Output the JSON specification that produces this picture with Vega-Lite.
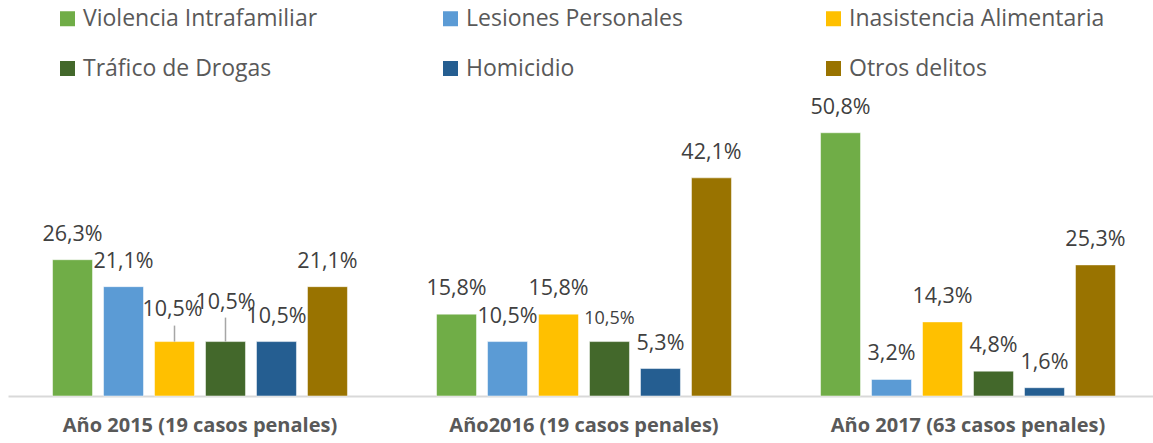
{
  "$schema": "https://vega.github.io/schema/vega-lite/v6.json",
  "autosize": "none",
  "width": 1152,
  "height": 285,
  "padding": {"left": 8, "top": 111, "right": 0, "bottom": 47},
  "background": "white",
  "config": {
    "view": {"stroke": null},
    "locale": {"number": {"decimal": ",", "thousands": ".", "grouping": [3], "currency": ["", " €"]}},
    "font": "Open Sans"
  },
  "data": {
    "values": [
      {"year": "Año 2015 (19 casos penales)", "cat": "Violencia Intrafamiliar", "pct": 0.263},
      {"year": "Año 2015 (19 casos penales)", "cat": "Lesiones Personales", "pct": 0.211},
      {"year": "Año 2015 (19 casos penales)", "cat": "Inasistencia Alimentaria", "pct": 0.105},
      {"year": "Año 2015 (19 casos penales)", "cat": "Tráfico de Drogas", "pct": 0.105},
      {"year": "Año 2015 (19 casos penales)", "cat": "Homicidio", "pct": 0.105},
      {"year": "Año 2015 (19 casos penales)", "cat": "Otros delitos", "pct": 0.211},
      {"year": "Año2016 (19 casos penales)", "cat": "Violencia Intrafamiliar", "pct": 0.158},
      {"year": "Año2016 (19 casos penales)", "cat": "Lesiones Personales", "pct": 0.105},
      {"year": "Año2016 (19 casos penales)", "cat": "Inasistencia Alimentaria", "pct": 0.158},
      {"year": "Año2016 (19 casos penales)", "cat": "Tráfico de Drogas", "pct": 0.105},
      {"year": "Año2016 (19 casos penales)", "cat": "Homicidio", "pct": 0.053},
      {"year": "Año2016 (19 casos penales)", "cat": "Otros delitos", "pct": 0.421},
      {"year": "Año 2017 (63 casos penales)", "cat": "Violencia Intrafamiliar", "pct": 0.508},
      {"year": "Año 2017 (63 casos penales)", "cat": "Lesiones Personales", "pct": 0.032},
      {"year": "Año 2017 (63 casos penales)", "cat": "Inasistencia Alimentaria", "pct": 0.143},
      {"year": "Año 2017 (63 casos penales)", "cat": "Tráfico de Drogas", "pct": 0.048},
      {"year": "Año 2017 (63 casos penales)", "cat": "Homicidio", "pct": 0.016},
      {"year": "Año 2017 (63 casos penales)", "cat": "Otros delitos", "pct": 0.253}
    ]
  },
  "encoding": {
    "x": {
      "field": "year", "type": "nominal", "sort": null,
      "scale": {"paddingInner": 0.232, "paddingOuter": 0.116},
      "axis": {
        "title": null, "labelAngle": 0, "ticks": false,
        "domainColor": "#D9D9D9", "domainWidth": 2,
        "labelFontSize": 20, "labelFontWeight": "bold", "labelColor": "#595959",
        "labelPadding": 19, "labelFont": "Open Sans", "labelLimit": 500
      }
    },
    "xOffset": {
      "field": "cat", "type": "nominal",
      "sort": ["Violencia Intrafamiliar", "Lesiones Personales", "Inasistencia Alimentaria", "Tráfico de Drogas", "Homicidio", "Otros delitos"],
      "scale": {"paddingInner": 0.216, "paddingOuter": 0}
    },
    "y": {
      "field": "pct", "type": "quantitative",
      "scale": {"domain": [0, 0.55], "nice": false},
      "axis": null
    }
  },
  "layer": [
    {
      "mark": {"type": "bar", "stroke": "white", "strokeOpacity": 0.5, "strokeWidth": 1},
      "encoding": {
        "color": {
          "field": "cat", "type": "nominal",
          "scale": {
            "domain": ["Violencia Intrafamiliar", "Lesiones Personales", "Inasistencia Alimentaria", "Tráfico de Drogas", "Homicidio", "Otros delitos"],
            "range": ["#70AD47", "#5B9BD5", "#FFC000", "#43682B", "#255E91", "#997300"]
          },
          "legend": {
            "title": null, "orient": "none", "legendX": 48, "legendY": -104,
            "direction": "horizontal", "columns": 3, "gridAlign": "all",
            "symbolType": "square", "symbolSize": 225, "symbolStrokeWidth": 0,
            "labelFontSize": 23, "labelColor": "#595959", "labelOffset": 4,
            "labelLimit": 400, "columnPadding": 100, "rowPadding": 26, "padding": 0
          }
        }
      }
    },
    {
      "transform": [{"filter": "!(datum.year == 'Año 2015 (19 casos penales)' && (datum.cat == 'Inasistencia Alimentaria' || datum.cat == 'Tráfico de Drogas')) && !(datum.year == 'Año2016 (19 casos penales)' && datum.cat == 'Tráfico de Drogas')"}],
      "mark": {"type": "text", "baseline": "middle", "dy": -25, "fontSize": 21.5, "color": "#404040"},
      "encoding": {"text": {"field": "pct", "type": "quantitative", "format": ".1%"}}
    },
    {
      "transform": [{"filter": "datum.year == 'Año2016 (19 casos penales)' && datum.cat == 'Tráfico de Drogas'"}],
      "mark": {"type": "text", "baseline": "middle", "dy": -23, "fontSize": 18, "color": "#404040"},
      "encoding": {"text": {"field": "pct", "type": "quantitative", "format": ".1%"}}
    },
    {
      "transform": [{"filter": "datum.year == 'Año 2015 (19 casos penales)' && datum.cat == 'Inasistencia Alimentaria'"}],
      "mark": {"type": "text", "baseline": "middle", "dy": -32, "dx": -2, "fontSize": 21.5, "color": "#404040"},
      "encoding": {"text": {"field": "pct", "type": "quantitative", "format": ".1%"}}
    },
    {
      "transform": [{"filter": "datum.year == 'Año 2015 (19 casos penales)' && datum.cat == 'Tráfico de Drogas'"}],
      "mark": {"type": "text", "baseline": "middle", "dy": -39, "fontSize": 21.5, "color": "#404040"},
      "encoding": {"text": {"field": "pct", "type": "quantitative", "format": ".1%"}}
    },
    {
      "transform": [{"filter": "datum.year == 'Año 2015 (19 casos penales)' && datum.cat == 'Inasistencia Alimentaria'"}],
      "mark": {"type": "rule", "color": "#A6A6A6", "strokeWidth": 1.5, "y2Offset": -16},
      "encoding": {"y2": {"field": "pct"}}
    },
    {
      "transform": [{"filter": "datum.year == 'Año 2015 (19 casos penales)' && datum.cat == 'Tráfico de Drogas'"}],
      "mark": {"type": "rule", "color": "#A6A6A6", "strokeWidth": 1.5, "y2Offset": -24},
      "encoding": {"y2": {"field": "pct"}}
    }
  ]
}
